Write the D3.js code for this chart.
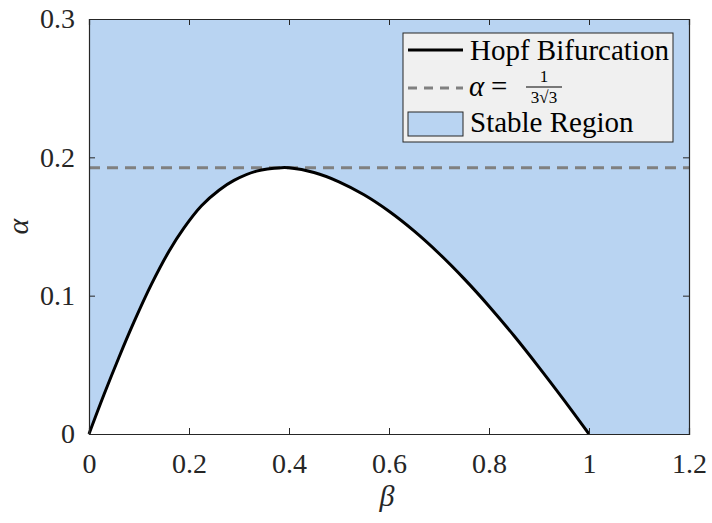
<!DOCTYPE html>
<html><head><meta charset="utf-8">
<script src="https://cdn.jsdelivr.net/npm/d3@7"></script>
<style>body{margin:0;background:#fff}svg{display:block}</style>
</head><body>
<svg id="c" width="712" height="521"></svg>
<script>
const beta  = [0, 0.03, 0.06, 0.09, 0.125, 0.16, 0.19, 0.225, 0.26, 0.29, 0.335, 0.385, 0.4, 0.45, 0.5, 0.55, 0.6, 0.65, 0.7, 0.75, 0.8, 0.85, 0.9, 0.95, 1.0];
const alpha = [0, 0.0285, 0.0555, 0.081, 0.1083, 0.1321, 0.1490, 0.1650, 0.1762, 0.1833, 0.1900, 0.1925, 0.1924, 0.1890, 0.1823, 0.1729, 0.1610, 0.1468, 0.1305, 0.1123, 0.0924, 0.0710, 0.0482, 0.0245, 0];
const alphaCrit = 0.19245;
const xTicks = [0, 0.2, 0.4, 0.6, 0.8, 1, 1.2];
const yTicks = [0, 0.1, 0.2, 0.3];
const xDomain = [0, 1.2], yDomain = [0, 0.3];
const legendLabels = ["Hopf Bifurcation", "α", "Stable Region"];

const svg = d3.select("#c");
const L = 89, R = 689, T = 19, B = 434;
const x = d3.scaleLinear().domain(xDomain).range([L, R]);
const y = d3.scaleLinear().domain(yDomain).range([B, T]);
const axisCol = "#262626";
const serifName = "Liberation Serif";
const setFont = s => s.attr("font-family", serifName);

const pts = beta.map((b, i) => ({b, a: alpha[i]}));
const area = d3.area().x(d => x(d.b)).y0(d => y(d.a)).y1(y(yDomain[1])).curve(d3.curveCatmullRom);
svg.append("path").attr("d", area(pts)).attr("fill", "#b9d4f2");
const tail = [{b: beta[beta.length - 1] - 0.002, a: 0}, {b: xDomain[1], a: 0}];
svg.append("path").attr("d", d3.area().x(d => x(d.b)).y0(d => y(d.a)).y1(y(yDomain[1]))(tail)).attr("fill", "#b9d4f2");

svg.append("line").attr("x1", x(xDomain[0])).attr("x2", x(xDomain[1]))
  .attr("y1", y(alphaCrit)).attr("y2", y(alphaCrit))
  .attr("stroke", "#808080").attr("stroke-width", 3).attr("stroke-dasharray", "11,7");

const line = d3.line().x(d => x(d.b)).y(d => y(d.a)).curve(d3.curveCatmullRom);
svg.append("path").attr("d", line(pts)).attr("fill", "none").attr("stroke", "#000").attr("stroke-width", 3);

const gx = svg.append("g").attr("transform", `translate(0,${B})`)
  .call(d3.axisBottom(x).tickValues(xTicks).tickSize(-6).tickPadding(19).tickFormat(d3.format("")));
const gy = svg.append("g").attr("transform", `translate(${L},0)`)
  .call(d3.axisLeft(y).tickValues(yTicks).tickSize(-6).tickPadding(14).tickFormat(d3.format("")));
const gt = svg.append("g").attr("transform", `translate(0,${T})`)
  .call(d3.axisTop(x).tickValues(xTicks).tickSize(-6).tickFormat(""));
const gr = svg.append("g").attr("transform", `translate(${R},0)`)
  .call(d3.axisRight(y).tickValues(yTicks).tickSize(-6).tickFormat(""));
[gx, gy, gt, gr].forEach(g => {
  g.attr("font-family", serifName).attr("font-size", 28);
  g.select(".domain").attr("stroke", axisCol).attr("stroke-width", 1.2);
  g.selectAll(".tick line").attr("stroke", axisCol);
  g.selectAll("text").call(setFont).attr("font-size", 28).attr("fill", axisCol);
});

svg.append("text").attr("x", 387).attr("y", 506).attr("text-anchor", "middle").call(setFont)
  .attr("font-style", "italic").attr("font-size", 30).attr("fill", axisCol).text("β");
svg.append("text").attr("transform", `translate(28,${(T + B) / 2}) rotate(-90)`).attr("text-anchor", "middle").call(setFont)
  .attr("font-style", "italic").attr("font-size", 30).attr("fill", axisCol).text("α");

const lg = svg.append("g").attr("font-family", serifName);
lg.append("rect").attr("x", 403).attr("y", 33).attr("width", 270).attr("height", 109)
  .attr("fill", "#f0f0f0").attr("stroke", axisCol).attr("stroke-width", 1);
lg.append("line").attr("x1", 408).attr("x2", 463).attr("y1", 50).attr("y2", 50).attr("stroke", "#000").attr("stroke-width", 3);
lg.append("text").attr("x", 470).attr("y", 60).call(setFont).attr("font-size", 29).attr("fill", "#000").text(legendLabels[0]);
lg.append("line").attr("x1", 408).attr("x2", 463).attr("y1", 88).attr("y2", 88).attr("stroke", "#808080").attr("stroke-width", 3).attr("stroke-dasharray", "9,7");
lg.append("text").attr("x", 469).attr("y", 96).call(setFont).attr("font-style", "italic").attr("font-size", 29).attr("fill", "#000").text(legendLabels[1]);
lg.append("text").attr("x", 491).attr("y", 96).call(setFont).attr("font-size", 29).attr("fill", "#000").text("=");
lg.append("text").attr("x", 544).attr("y", 82).attr("text-anchor", "middle").call(setFont).attr("font-size", 17).text("1");
lg.append("line").attr("x1", 526).attr("x2", 562).attr("y1", 87).attr("y2", 87).attr("stroke", "#000").attr("stroke-width", 1);
lg.append("text").attr("x", 544).attr("y", 103).attr("text-anchor", "middle").call(setFont).attr("font-size", 17).text("3√3");
lg.append("rect").attr("x", 408).attr("y", 112).attr("width", 55).attr("height", 24).attr("fill", "#b9d4f2").attr("stroke", axisCol).attr("stroke-width", 1);
lg.append("text").attr("x", 470).attr("y", 132).call(setFont).attr("font-size", 29).attr("fill", "#000").text(legendLabels[2]);
</script>
</body></html>
